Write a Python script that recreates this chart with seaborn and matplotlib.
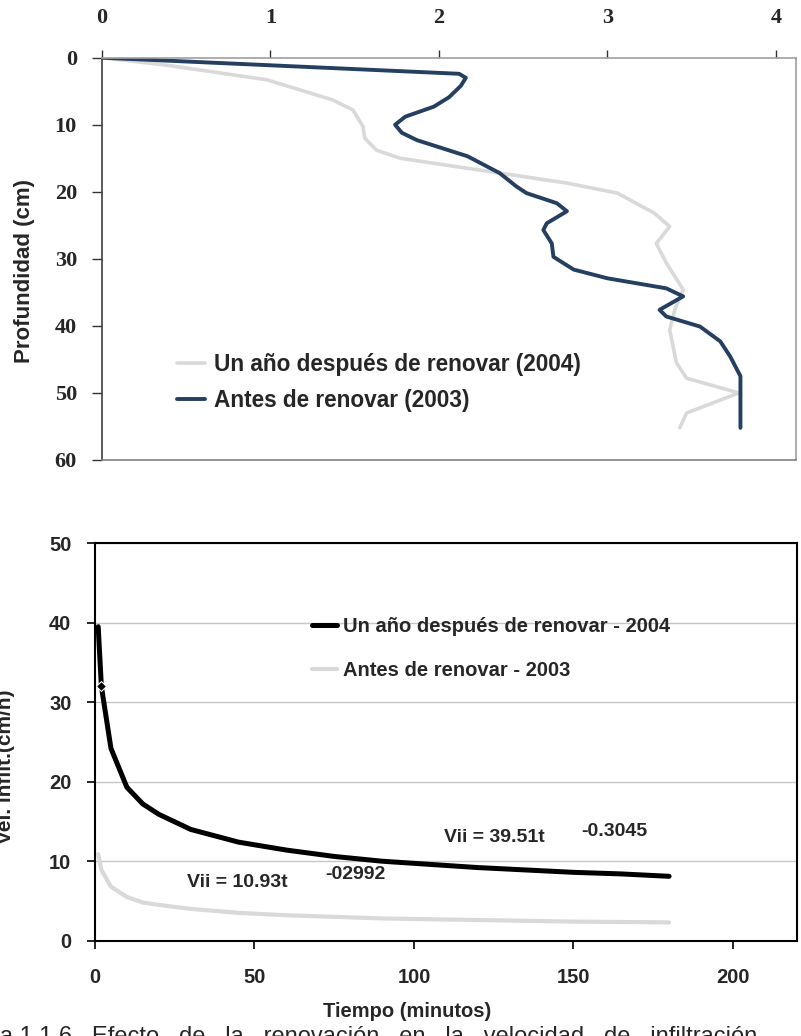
import matplotlib
matplotlib.use('Agg')
import matplotlib.pyplot as plt
import seaborn as sns
import numpy as np
import pandas as pd

# top panel: profile vs depth (cm)
x_2004 = [0, 0.38, 0.98, 1.37, 1.49, 1.55, 1.56, 1.63, 1.77, 2.36, 2.76, 3.06, 3.28,
          3.37, 3.29, 3.35, 3.45, 3.40, 3.37, 3.41, 3.47, 3.78, 3.47, 3.43]
depth_2004 = [0, 1.1, 3.3, 6.3, 7.8, 10.3, 12.0, 13.8, 15.0, 17.2, 18.7, 20.2, 23.2,
              25.2, 27.7, 30.6, 34.6, 37.6, 40.6, 45.5, 47.8, 50.0, 53.0, 55.2]

x_2003 = [0, 2.12, 2.16, 2.13, 2.06, 1.97, 1.80, 1.74, 1.78, 1.87, 2.17, 2.36, 2.46,
          2.52, 2.70, 2.76, 2.64, 2.62, 2.67, 2.68, 2.80, 3.00, 3.35, 3.45, 3.31, 3.35,
          3.55, 3.67, 3.73, 3.79, 3.79]
depth_2003 = [0, 2.4, 3.0, 4.2, 5.9, 7.3, 8.8, 10.0, 11.2, 12.3, 14.7, 17.2, 19.2,
              20.2, 21.7, 22.9, 24.7, 25.7, 27.7, 29.7, 31.6, 32.9, 34.4, 35.6, 37.6, 38.6,
              40.1, 42.3, 44.6, 47.5, 55.2]

# bottom panel: infiltration rate vs time
tiempo = [1, 2, 5, 10, 15, 20, 30, 45, 60, 75, 90, 105, 120, 135, 150, 165, 180]
vel_2004 = [39.5, 32.0, 24.2, 19.3, 17.2, 15.9, 14.0, 12.4, 11.4, 10.6, 10.0, 9.6,
            9.2, 8.9, 8.6, 8.4, 8.1]
vel_2003 = [10.9, 8.9, 6.8, 5.5, 4.8, 4.5, 4.0, 3.5, 3.2, 3.0, 2.8, 2.7, 2.6, 2.5,
            2.4, 2.35, 2.3]

sns.set_style('ticks')
plt.rcParams['font.family'] = ['Liberation Sans', 'DejaVu Sans']

fig = plt.figure(figsize=(8.01, 10.36), dpi=100)
ax1 = fig.add_axes([0.1273, 0.5560, 0.8665, 0.3883])
ax2 = fig.add_axes([0.1186, 0.0920, 0.8760, 0.3836])

# ---- top chart
sns.lineplot(x=x_2004, y=depth_2004, sort=False, estimator=None, color='#d9d9d9',
             lw=2.6, ax=ax1, label='Un año después de renovar (2004)',
             solid_joinstyle='round')
sns.lineplot(x=x_2003, y=depth_2003, sort=False, estimator=None, color='#243f60',
             lw=2.8, ax=ax1, label='Antes de renovar (2003)', solid_joinstyle='round')

ax1.set_xlim(0, 4.12)
ax1.set_ylim(60, 0)
ax1.set_xticks([0, 1, 2, 3, 4])
ax1.set_yticks([0, 10, 20, 30, 40, 50, 60])
ax1.xaxis.tick_top()
ax1.tick_params(axis='x', top=True, bottom=False, labeltop=True, labelbottom=False,
                direction='out', length=6, width=1, color='#333333', pad=15.5)
ax1.tick_params(axis='y', direction='out', length=7, width=1, color='#333333', pad=11)
for lbl in ax1.get_xticklabels() + ax1.get_yticklabels():
    lbl.set_fontfamily('Liberation Serif')
    lbl.set_fontweight('bold')
    lbl.set_fontsize(16)
ax1.set_xlabel('')
ax1.set_ylabel('')
ax1.spines['left'].set_color('#404040')
ax1.spines['top'].set_color('#a0a0a0')
ax1.spines['right'].set_color('#a0a0a0')
ax1.spines['bottom'].set_color('#808080')
for s in ax1.spines.values():
    s.set_linewidth(1.2)

ax1.legend(loc='center left', bbox_to_anchor=(0.108, 0.1925), frameon=False,
           prop={'size': 16.3, 'weight': 'bold'}, handlelength=1.25,
           handletextpad=0.4, labelspacing=0.6, borderpad=0, borderaxespad=0)

# ---- bottom chart
sns.lineplot(x=tiempo, y=vel_2004, color='black', lw=3.6, ax=ax2,
             label='Un año después de renovar - 2004', marker='D', markevery=[1],
             markersize=5)
sns.lineplot(x=tiempo, y=vel_2003, color='#d9d9d9', lw=3.0, ax=ax2,
             label='Antes de renovar - 2003')

ax2.set_xlim(0, 220)
ax2.set_ylim(0, 50)
ax2.set_xticks([0, 50, 100, 150, 200])
ax2.set_yticks([0, 10, 20, 30, 40, 50])
ax2.set_axisbelow(True)
ax2.yaxis.grid(True, color='#c6c6c6', lw=1.0)
ax2.xaxis.grid(False)
ax2.tick_params(axis='x', direction='out', length=6, width=1.2, color='black', pad=14,
                labelsize=14.5)
ax2.tick_params(axis='y', direction='out', length=6, width=1.2, color='black', pad=11,
                labelsize=14.5)
for lbl in ax2.get_xticklabels() + ax2.get_yticklabels():
    lbl.set_fontweight('bold')
ax2.set_xlabel('')
ax2.set_ylabel('')
for s in ax2.spines.values():
    s.set_color('black')
    s.set_linewidth(1.5)

leg2 = ax2.legend(loc='center left', bbox_to_anchor=(0.309, 0.7345), frameon=False,
                  prop={'size': 14.5, 'weight': 'bold'}, handlelength=1.25,
                  handletextpad=0.3, labelspacing=1.25, borderpad=0, borderaxespad=0)
for h in leg2.legend_handles:
    h.set_marker('')

eq_font = dict(fontsize=14, fontweight='bold', va='center', ha='left')
ax2.text(28.9, 7.3, 'Vii = 10.93t', **eq_font)
ax2.text(72.3, 8.3, '-02992', **eq_font)
ax2.text(109.4, 13.0, 'Vii = 39.51t', **eq_font)
ax2.text(152.5, 13.7, '-0.3045', **eq_font)

# axis titles placed like the source
fig.text(25 / 801, 0.738, 'Profundidad (cm)', rotation=90, ha='center', va='center',
         fontsize=16, fontweight='bold')
fig.text(6 / 801, 0.2597, 'Vel. infilt.(cm/h)', rotation=90, ha='center', va='center',
         fontsize=15, fontweight='bold')
fig.text(0.508, 0.0235, 'Tiempo (minutos)', ha='center', va='center',
         fontsize=14.5, fontweight='bold')
# figure caption, cut by the lower edge as in the source
fig.text(-0.01, 1 - 1043 / 1036,
         'ra 1.1.6   Efecto   de   la   renovación   en   la   velocidad   de   infiltración',
         ha='left', va='baseline', fontsize=17)

fig.savefig('out.png', dpi=100)
